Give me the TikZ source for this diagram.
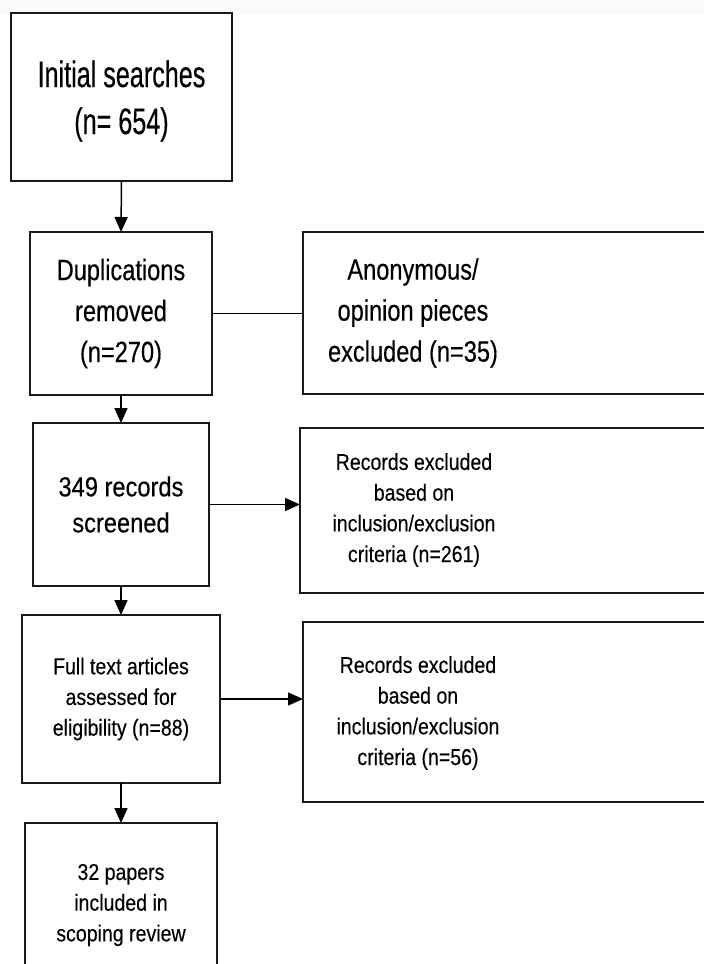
\documentclass[tikz,border=0pt]{standalone}
\usepackage{fontspec}
\usetikzlibrary{arrows.meta}
% Narrowed Arial-metric faces for the box labels
\newfontfamily\fbig[FakeStretch=0.68,FakeBold=0.35]{Liberation Sans}
\newfontfamily\fmed[FakeStretch=0.80,FakeBold=0.3]{Liberation Sans}
\newfontfamily\fmid[FakeStretch=0.86,FakeBold=0.3]{Liberation Sans}
\newfontfamily\fsmall[FakeStretch=0.85,FakeBold=0.25]{Liberation Sans}
\begin{document}
\begin{tikzpicture}[x=1pt,y=-1pt,
  box/.style={draw=black!90, line width=1.6pt, inner sep=0pt, outer sep=0pt,
              anchor=north west, align=center},
  label/.style={inner sep=0pt, align=center},
  bigtxt/.style={font=\fbig\fontsize{37}{47}\selectfont},
  medtxt/.style={font=\fmed\fontsize{29.5}{41}\selectfont},
  midtxt/.style={font=\fmid\fontsize{27.5}{36}\selectfont},
  smalltxt/.style={font=\fsmall\fontsize{23}{30.7}\selectfont},
  conn/.style={draw=black, line width=1.5pt},
  arr/.style={conn, -{Triangle[length=15pt,width=13pt]}}]
\useasboundingbox (0,0) rectangle (704,964);
\fill[white] (0,0) rectangle (704,964);
\fill[black!2] (0,0) rectangle (704,14);
\clip (0,0) rectangle (704,964);

% left column
\node[box, minimum width=221pt, minimum height=168pt] (b1) at (11,13) {};
\node[label, bigtxt] (t1) at (121.5,101) {Initial searches\\(n= 654)};
\node[box, medtxt, minimum width=182pt, minimum height=163pt] (b2) at (30,232)
  {Duplications\\removed\\(n=270)};
\node[box, midtxt, minimum width=176pt, minimum height=163pt] (b4) at (33,423)
  {349 records\\screened};
\node[box, smalltxt, minimum width=198pt, minimum height=168pt] (b6) at (22,615)
  {Full text articles\\assessed for\\eligibility (n=88)};
\node[box, minimum width=192pt, minimum height=164pt] (b8) at (25,823) {};
\node[label, smalltxt] (t8) at (121,905) {32 papers\\included in\\scoping review};

% right column
\node[box, minimum width=410pt, minimum height=162pt] (b3) at (303,232) {};
\node[label, medtxt] (t3) at (413,313) {Anonymous/\\opinion pieces\\excluded (n=35)};
\node[box, minimum width=410pt, minimum height=165pt] (b5) at (300,428) {};
\node[label, smalltxt] (t5) at (414,510)
  {Records excluded\\based on\\inclusion/exclusion\\criteria (n=261)};
\node[box, minimum width=410pt, minimum height=180pt] (b7) at (303,622) {};
\node[label, smalltxt] (t7) at (418,713)
  {Records excluded\\based on\\inclusion/exclusion\\criteria (n=56)};

% connectors
\draw[arr] (b1.south) -- (b2.north);
\draw[arr] (b2.south) -- (b4.north);
\draw[arr] (b4.south) -- (b6.north);
\draw[arr] (b6.south) -- (b8.north);
\draw[conn] (b2.east) -- (b2.east -| b3.west);
\draw[arr] (b4.east) -- (b4.east -| b5.west);
\draw[arr] (b6.east) -- (b6.east -| b7.west);
\end{tikzpicture}
\end{document}
